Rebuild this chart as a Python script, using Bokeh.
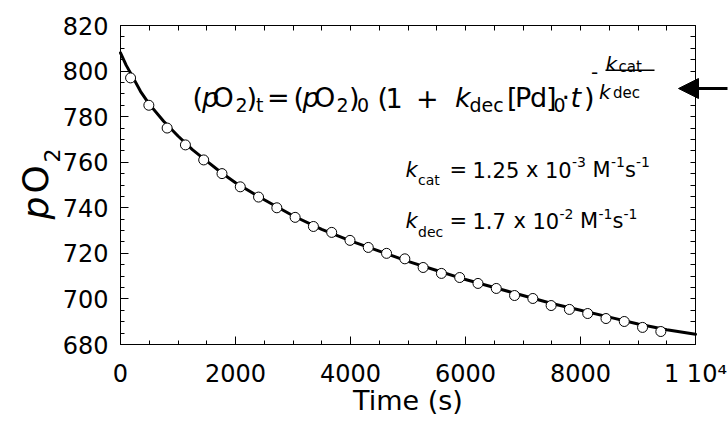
import math
from bokeh.plotting import figure
from bokeh.models import (Label, Arrow, NormalHead, LinearAxis, SingleIntervalTicker,
                          FixedTicker, Range1d, BoxAnnotation)
from bokeh.embed import file_html
from bokeh.resources import INLINE

# ---------------- data ----------------
time_s = [175, 493, 811, 1129, 1447, 1765, 2083, 2401, 2719, 3037,
          3355, 3673, 3991, 4309, 4627, 4945, 5263, 5581, 5899, 6217,
          6535, 6853, 7171, 7489, 7807, 8125, 8443, 8761, 9079, 9397]
po2_obs = [797.0, 785.0, 775.0, 767.6, 761.0, 755.0, 749.2, 744.7, 740.0, 735.8,
           731.8, 729.2, 725.7, 722.6, 720.0, 717.6, 713.8, 711.2, 709.4, 706.8,
           704.6, 701.5, 700.2, 697.1, 695.4, 693.6, 691.4, 690.1, 687.5, 685.7]

fit_t = [0, 100, 200, 350, 500, 750, 1000, 1250, 1500, 1750, 2000, 2500, 3000,
         3500, 4000, 4500, 5000, 5500, 6000, 6500, 7000, 7500, 8000, 8500,
         9000, 9500, 10000]
fit_po2 = [808.0, 802.5, 798.0, 791.0, 785.5, 778.0, 771.5, 765.5, 760.5, 755.5,
           751.0, 743.5, 736.5, 730.5, 725.5, 721.0, 716.5, 712.5, 708.5, 705.0,
           701.5, 698.0, 695.0, 692.0, 689.0, 686.5, 684.5]

x_range = (0, 10000)
y_range = (680, 820)
x_tick_labels = {10000: "1 10\u2074"}
x_mirror_ticks = [0, 500, 1000, 1500, 2000, 2500, 3000, 3500, 4000, 4500, 5000,
                  5500, 6000, 6500, 7000, 7500, 8000, 8500, 9000, 9500, 10000]
y_mirror_ticks = [680, 685, 690, 695, 700, 705, 710, 715, 720, 725, 730, 735, 740,
                  745, 750, 755, 760, 765, 770, 775, 780, 785, 790, 795, 800, 805,
                  810, 815, 820]

FONT = "DejaVu Sans"
TICK = "black"
W, H = 728, 421
FX0, FX1, FY0, FY1 = 120, 695, 344, 25   # boxed axes edges in picture pixels

def dx(px):
    return x_range[0] + (px - FX0) * (x_range[1] - x_range[0]) / (FX1 - FX0)

def dy(py):
    return y_range[0] + (FY0 - py) * (y_range[1] - y_range[0]) / (FY0 - FY1)

# ---------------- figure ----------------
# The drawing area spans the whole canvas so that nothing is clipped;
# the four axes are pinned at the edges of the data box.
p = figure(width=W, height=H, x_range=Range1d(dx(0), dx(W)), y_range=Range1d(dy(H), dy(0)),
           output_backend="svg", toolbar_location=None,
           min_border_left=0, min_border_right=0, min_border_top=0, min_border_bottom=0)
p.title.visible = False
p.xgrid.visible = False
p.ygrid.visible = False
p.outline_line_color = None
p.background_fill_color = "white"
p.border_fill_color = "white"

def style_axis(ax):
    ax.axis_line_color = "black"
    ax.axis_line_width = 1
    ax.major_tick_in = 8
    ax.major_tick_out = 0
    ax.minor_tick_in = 4
    ax.minor_tick_out = 0
    ax.major_tick_line_color = TICK
    ax.minor_tick_line_color = TICK
    ax.major_tick_line_width = 1
    ax.minor_tick_line_width = 1
    ax.major_label_text_font = FONT
    ax.major_label_text_font_size = "24px"
    ax.major_label_text_color = "black"

xa = p.xaxis[0]
xa.ticker = SingleIntervalTicker(interval=2000, num_minor_ticks=4)
xa.fixed_location = y_range[0]
xa.bounds = x_range
style_axis(xa)
xa.major_label_standoff = 15
xa.major_label_overrides = x_tick_labels
xa.axis_label = "Time (s)"
xa.axis_label_text_font = FONT
xa.axis_label_text_font_size = "27px"
xa.axis_label_text_font_style = "normal"
xa.axis_label_text_color = "black"
xa.axis_label_standoff = -6

ya = p.yaxis[0]
ya.ticker = SingleIntervalTicker(interval=20, num_minor_ticks=4)
ya.fixed_location = x_range[0]
ya.bounds = y_range
style_axis(ya)
ya.major_label_standoff = 12

# mirrored tick marks on top and right (no labels)
top = LinearAxis(ticker=FixedTicker(ticks=[], minor_ticks=x_mirror_ticks),
                 fixed_location=y_range[1], bounds=x_range)
style_axis(top)
top.minor_tick_in = 5
p.add_layout(top, "above")
right = LinearAxis(ticker=FixedTicker(ticks=[], minor_ticks=y_mirror_ticks),
                   fixed_location=x_range[1], bounds=y_range)
style_axis(right)
right.minor_tick_in = 5
p.add_layout(right, "right")

# ---------------- marks ----------------
p.line(fit_t, fit_po2, line_width=3, line_color="black", line_cap="round", line_join="round")
p.scatter(time_s, po2_obs, marker="circle", size=10, fill_color="white",
          line_color="black", line_width=1)

# ---------------- texts ----------------
def lab(txt, xpx, ypx, size, italic=False, angle=0.0):
    p.add_layout(Label(x=dx(xpx), y=dy(ypx), text=txt, text_font=FONT,
                       text_font_size=f"{size}px",
                       text_font_style="italic" if italic else "normal",
                       text_color="black", text_align="left",
                       text_baseline="alphabetic", angle=angle))

# y axis label  pO2 (rotated, reads upward)
A = math.pi / 2
lab("p", 35, 219, 36, True, A)
lab("O", 35, 193, 36, False, A)
lab("2", 51, 162, 22, False, A)

# main formula
M, S, BM, BS = 27, 19, 97, 104
for t, x, kind in [("(", 192, "m"), ("p", 201.5, "i"), ("O", 212, "m"), ("2", 235, "s"),
                   (")", 246, "m"), ("t", 255.5, "s"), ("=", 266.5, "m"),
                   ("(", 293, "m"), ("p", 302, "i"), ("O", 313.5, "m"), ("2", 336, "s"),
                   (")", 348.5, "m"), ("0", 356.5, "s"), ("(", 377, "m"), ("1", 385, "m"),
                   ("+", 415.5, "m"), ("k", 454.5, "i"), ("dec", 469, "s"),
                   ("[", 506.5, "m"), ("P", 514.5, "m"), ("d", 529.5, "m"), ("]", 545.5, "m"),
                   ("0", 553, "s"), ("\u00b7", 561, "m"), ("t", 570, "i"), (")", 583.5, "m")]:
    if kind == "s":
        lab(t, x, BS, S)
    else:
        lab(t, x, BM, M, kind == "i")

# exponent  -kcat/kdec
lab("-", 590.5, 71, 20)
lab("k", 605, 63.5, 20, True)
lab("cat", 618, 66.5, 15)
p.add_layout(BoxAnnotation(left=dx(605), right=dx(654), top=dy(69), bottom=dy(70.6),
                           fill_color="black", fill_alpha=1, line_color=None))
lab("k", 598.5, 91, 20, True)
lab("dec", 612.5, 92.5, 15)

# kcat line
B1, B1s, B1p = 169, 179, 161.5
lab("k", 405, B1, 21, True)
lab("cat", 417.5, B1s, 14)
lab("=", 449, B1, 21)
lab("1.25", 472, B1, 21)
lab("x", 525.5, B1, 21)
lab("10", 544.5, B1, 21)
lab("-3", 571.5, B1p, 14)
lab("M", 592, B1, 21)
lab("-1", 610.5, B1p, 14)
lab("s", 624.5, B1, 21)
lab("-1", 635.5, B1p, 14)

# kdec line
B2, B2s, B2p = 220, 231.5, 213
lab("k", 405, B2, 21, True)
lab("dec", 417.5, B2s, 14)
lab("=", 449, B2, 21)
lab("1.7", 472, B2, 21)
lab("x", 513, B2, 21)
lab("10", 532, B2, 21)
lab("-2", 559, B2p, 14)
lab("M", 579.5, B2, 21)
lab("-1", 598, B2p, 14)
lab("s", 612, B2, 21)
lab("-1", 623, B2p, 14)

# arrow pointing at the formula
p.add_layout(Arrow(end=NormalHead(size=20, fill_color="black", line_color="black"),
                   x_start=dx(727), y_start=dy(88), x_end=dx(678), y_end=dy(88),
                   line_width=3, line_color="black"))

open("out.html", "w").write(file_html(p, INLINE))
